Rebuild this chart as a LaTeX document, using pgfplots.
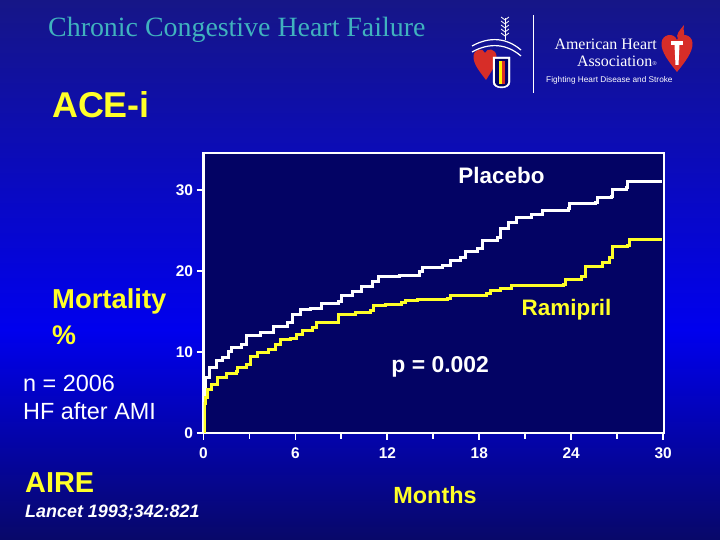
\documentclass[border=0pt]{standalone}
\usepackage{pgfplots}
\pgfplotsset{compat=1.18}
\usepackage{fontspec}
\setmainfont{Liberation Sans}
\newfontfamily\timesfont{Liberation Serif}
\definecolor{bgtop}{RGB}{22,22,135}
\definecolor{bgmid}{RGB}{0,0,238}
\definecolor{bgbot}{RGB}{8,8,105}
\definecolor{plotbg}{RGB}{3,3,100}
\definecolor{titlecol}{RGB}{64,178,190}
\definecolor{yel}{RGB}{255,255,40}
\definecolor{ahared}{RGB}{215,45,40}

\pgfplotstableread{
x y
0 0
0.03 2.5
0.06 4.8
0.1 6.8
0.38 8.05
0.82 8.9
1.26 9.3
1.6 10.1
1.8 10.5
2.5 10.9
2.8 12.0
3.7 12.4
4.6 13.2
5.5 13.6
5.8 14.6
6.35 15.2
7.0 15.4
7.7 16.0
8.8 16.2
9.0 17.0
9.7 17.5
10.3 18.1
11.0 18.7
11.45 19.3
12.8 19.5
14.1 19.9
14.3 20.4
15.6 20.7
16.1 21.3
16.8 21.7
17.1 22.4
17.9 22.8
18.2 23.8
19.2 24.1
19.4 25.2
19.9 26.0
20.4 26.6
21.4 27.0
22.1 27.5
23.8 27.7
23.9 28.3
25.6 28.5
25.7 29.1
26.6 29.2
26.7 30.1
27.6 30.3
27.65 31.1
29.9 31.1
}\placebo

\pgfplotstableread{
x y
0 0
0.04 2.0
0.08 3.6
0.12 4.4
0.27 5.4
0.5 6.0
0.93 6.8
1.5 7.4
2.15 7.6
2.25 8.05
2.8 8.5
3.1 9.5
3.5 9.9
4.25 10.3
4.7 10.9
5.0 11.5
5.7 11.7
6.1 12.1
6.45 12.6
7.1 13.0
7.35 13.6
8.35 13.6
8.8 14.6
9.9 14.9
10.9 15.1
11.1 15.7
11.9 15.9
12.9 16.1
13.2 16.3
14.0 16.5
15.9 16.6
16.1 17.0
18.5 17.2
18.75 17.65
19.4 17.9
20.1 18.2
23.5 18.3
23.6 19.0
24.7 19.3
24.95 20.5
26.05 21.0
26.5 21.7
26.7 23.0
27.7 23.2
27.8 23.9
29.9 23.9
}\ramipril

\begin{document}
\begin{tikzpicture}
\useasboundingbox (0,0) rectangle (720bp,540bp);
\shade[top color=bgtop, bottom color=bgmid] (0,210bp) rectangle (720bp,540bp);
\shade[top color=bgmid, bottom color=bgbot] (0,0) rectangle (720bp,210.5bp);

\begin{axis}[
  at={(203.5bp,107bp)}, anchor=south west,
  x=15.32bp, y=8.1bp,
  xmin=0, xmax=30.05, ymin=0, ymax=34.6,
  axis line style={white, line width=2.2bp},
  axis background/.style={fill=plotbg},
  xtick={0,6,...,30}, minor xtick={3,9,...,27},
  ytick={0,10,20,30},
  xtick pos=left, ytick pos=left, tick align=outside,
  major tick length=7bp, minor tick length=6bp,
  tick style={white, line width=1.8bp},
  minor tick style={white, line width=1.8bp},
  /pgf/number format/assume math mode=true,
  tick label style={font=\bfseries\fontsize{15.5}{18}\selectfont, text=white},
  xticklabel style={yshift=-4bp},
  clip mode=individual,
]
\addplot[const plot, white, line width=3bp] table[x=x,y=y] {\placebo};
\addplot[const plot, yel, line width=3bp] table[x=x,y=y] {\ramipril};
\node[anchor=base, text=white, font=\bfseries\fontsize{22.5}{26}\selectfont, inner sep=0] at (axis cs:19.45,30.8) {Placebo};
\node[anchor=base, text=yel, font=\bfseries\fontsize{22.5}{26}\selectfont, inner sep=0] at (axis cs:23.7,14.45) {Ramipril};
\node[anchor=base, text=white, font=\bfseries\fontsize{23}{26}\selectfont, inner sep=0] at (axis cs:15.45,7.5) {p = 0.002};
\end{axis}

% title
\node[anchor=base west, inner sep=0, text=titlecol, font=\timesfont\fontsize{28}{31}\selectfont] at (48bp,503bp) {Chronic Congestive Heart Failure};
\node[anchor=base west, inner sep=0, text=yel, font=\bfseries\fontsize{36}{40}\selectfont] at (52bp,422bp) {ACE-i};
% left texts
\node[anchor=base west, inner sep=0, text=yel, font=\bfseries\fontsize{27.5}{30}\selectfont] at (52bp,231bp) {Mortality};
\node[anchor=base west, inner sep=0, text=yel, font=\bfseries\fontsize{27}{30}\selectfont] at (52bp,195bp) {\%};
\node[anchor=base west, inner sep=0, text=white, font=\fontsize{23.5}{26}\selectfont] at (23bp,148bp) {n = 2006};
\node[anchor=base west, inner sep=0, text=white, font=\fontsize{23.5}{26}\selectfont] at (23bp,120bp) {HF after AMI};
\node[anchor=base west, inner sep=0, text=yel, font=\bfseries\fontsize{29}{32}\selectfont] at (25bp,47bp) {AIRE};
\node[anchor=base west, inner sep=0, text=white, font=\bfseries\itshape\fontsize{18}{21}\selectfont] at (25bp,23bp) {Lancet 1993;342:821};
\node[anchor=base, inner sep=0, text=yel, font=\bfseries\fontsize{23.5}{26}\selectfont] at (435bp,37bp) {Months};

% logos
\draw[white, line width=0.8bp] (533bp,447bp) -- (533bp,525bp);
\node[anchor=base east, inner sep=0, text=white, font=\timesfont\fontsize{16}{18}\selectfont] at (657bp,490bp) {American Heart};
\node[anchor=base east, inner sep=0, text=white, font=\timesfont\fontsize{16}{18}\selectfont] at (657bp,473bp) {Association\raisebox{0.1em}{\fontsize{6}{6}\selectfont\textregistered}};
\node[anchor=base west, inner sep=0, text=white, font=\fontsize{8.3}{10}\selectfont] at (546bp,457bp) {Fighting Heart Disease and Stroke};
\begin{scope}[shift={(677bp,490bp)}, x=1bp, y=1bp]
\fill[ahared] (0,-22) .. controls (-8,-12) and (-16,-2) .. (-15.5,7) .. controls (-15,16) and (-3,18) .. (0,10) .. controls (3,18) and (15,16) .. (15.5,7) .. controls (16,-2) and (8,-12) .. (0,-22) -- cycle;
\fill[white] (-1.5,-15) -- (1.5,-15) -- (2.5,5) -- (-2.5,5) -- cycle;
\fill[white] (-6,5) rectangle (6,8.5);
\fill[ahared] (1,11) .. controls (-2,15) and (3,20) .. (7,25) .. controls (5,19) and (10,16) .. (5,11) -- cycle;
\end{scope}
\begin{scope}[shift={(485bp,478bp)}, x=1bp, y=1bp]
\fill[ahared] (1,-18) .. controls (-5,-10) and (-12,-2) .. (-11.5,6) .. controls (-11,13) and (-2,15) .. (0,9) .. controls (2,15) and (11,13) .. (11.5,6) .. controls (12,-2) and (6,-10) .. (1,-18) -- cycle;
\filldraw[fill=white, draw=white] (8,5) -- (25,5) -- (25,-20) .. controls (25,-28) and (8,-28) .. (8,-20) -- cycle;
\fill[plotbg] (10,3) -- (23,3) -- (23,-20) .. controls (23,-26) and (10,-26) .. (10,-20) -- cycle;
\fill[yellow] (13.5,1) rectangle (16.5,-22);
\fill[ahared] (16.5,1) rectangle (19.5,-22);
\draw[white, line width=1.2bp] (-13,16) .. controls (5,26) and (22,24) .. (36,12);
\draw[white, line width=1.2bp] (-13,10) .. controls (5,20) and (22,18) .. (36,6);
\draw[white, line width=1bp] (20,22) -- (20,44);
\foreach \yy in {26,30,34,38,42} {\draw[white, line width=0.8bp] (20,\yy) -- (16,\yy+3); \draw[white, line width=0.8bp] (20,\yy) -- (24,\yy+3);}
\end{scope}
\end{tikzpicture}
\end{document}
